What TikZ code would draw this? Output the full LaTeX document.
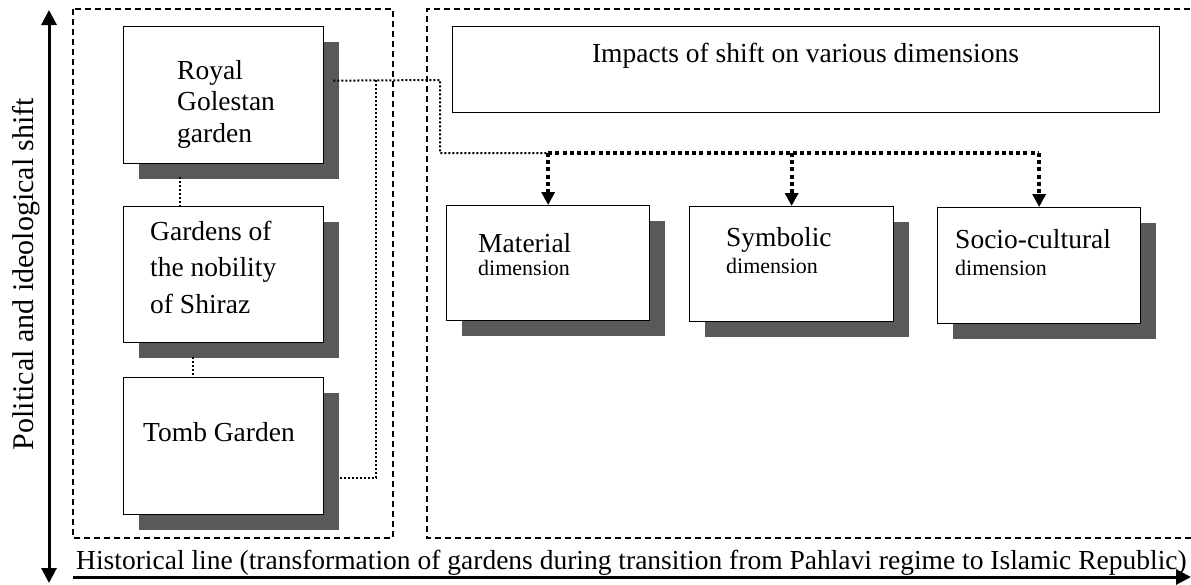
\documentclass[tikz,border=0pt]{standalone}
\usepackage{fontspec}
\setmainfont{Liberation Serif}
\usetikzlibrary{arrows.meta,shadows,calc}
\begin{document}
\begin{tikzpicture}[x=1pt,y=-1pt,
  box/.style={draw=black, line width=1.3pt, fill=white, inner sep=0pt, anchor=north west,
    drop shadow={shadow xshift=15pt, shadow yshift=-15pt, fill=black!65, opacity=1}},
  plainbox/.style={draw=black, line width=1.3pt, fill=white, inner sep=0pt, anchor=north west},
  txt/.style={anchor=base west, inner sep=0pt, align=left},
  big/.style={font=\fontsize{27.5}{31.5}\selectfont},
  small/.style={anchor=base west, inner sep=0pt, font=\fontsize{22}{26}\selectfont},
  frame/.style={line width=1.2pt, dash pattern=on 6pt off 4pt},
  thindot/.style={line width=2pt, dash pattern=on 2pt off 2pt},
  thickdot/.style={line width=4pt, dash pattern=on 4pt off 3.2pt},
  axis/.style={line width=3pt},
]
\useasboundingbox (0,0) rectangle (1191,584);

% frames
\draw[frame] (73,9) rectangle (393,538);
\draw[frame] (1200,9) -- (427,9) -- (427,538) -- (1200,538);

% left boxes
\node[box, minimum width=200pt, minimum height=137pt] (royal) at (123,26) {};
\node[box, minimum width=200pt, minimum height=136pt] (nobility) at (123,206) {};
\node[box, minimum width=200pt, minimum height=137pt] (tomb) at (123,377) {};

\node[txt, font=\fontsize{27.5}{31.5}\selectfont] (royalt) at (177,142) {Royal\\Golestan\\garden};
\node[txt, font=\fontsize{27.5}{36.5}\selectfont] (nobilityt) at (150,313) {Gardens of\\the nobility\\of Shiraz};
\node[txt, big] (tombt) at (143,441) {Tomb Garden};

% right boxes
\node[plainbox, minimum width=707pt, minimum height=86pt] (impacts) at (452,26) {};
\node[anchor=base, inner sep=0pt, big] (impactst) at (805.5,62) {Impacts of shift on various dimensions};

\node[box, minimum width=203pt, minimum height=115pt] (material) at (446,205) {};
\node[box, minimum width=204pt, minimum height=115pt] (symbolic) at (689,206) {};
\node[box, minimum width=203pt, minimum height=116pt] (socio) at (937,207) {};

\node[txt, big] (materialt) at (478,252) {Material};
\node[small] (materiald) at (478,275) {dimension};
\node[txt, big] (symbolict) at (726,246) {Symbolic};
\node[small] (symbolicd) at (726,273) {dimension};
\node[txt, big] (sociot) at (955,248) {Socio-cultural};
\node[small] (sociod) at (955,275) {dimension};

% connectors between left boxes
\draw[thindot] ([xshift=-44pt]royal.south |- 0,177) -- ([xshift=-44pt]nobility.north);
\draw[thindot] ([xshift=-31pt]tomb.north |- 0,357) -- ([xshift=-31pt]tomb.north);

% dotted links
\coordinate (r1) at ($(royal.east)+(9,-14.5)$);
\coordinate (j1) at (376,80);
\coordinate (j2) at (440,80);
\coordinate (j3) at (440,153);
\coordinate (t1) at ($(tomb.east)+(16,31.5)$);
\draw[thindot] (r1) -- (j2) -- (j3) -- (material.north |- j3);
\draw[thindot] (j1) -- (j1 |- t1) -- (t1);

\draw[thickdot] (material.north |- j3) -- (socio.north |- j3);
\draw[thickdot, -{Triangle[width=13pt,length=13pt]}] (material.north |- j3) -- (material.north);
\draw[thickdot, -{Triangle[width=13pt,length=13pt]}] (symbolic.north |- j3) -- (symbolic.north);
\draw[thickdot, -{Triangle[width=13pt,length=13pt]}] (socio.north |- j3) -- (socio.north);

% axes
\coordinate (vtop) at (49,10);
\coordinate (vbot) at (49,583);
\coordinate (hl) at (73,577);
\coordinate (hr) at (1191,577);
\draw[axis, {Triangle[width=15pt,length=15pt]}-{Triangle[width=15pt,length=15pt]}] (vbot) -- (vtop);
\draw[axis, -{Triangle[width=15pt,length=15pt]}] (hl) -- (hr);

\node[rotate=90, anchor=base, inner sep=0pt, font=\fontsize{30}{36}\selectfont] (vlab) at (33,274) {Political and ideological shift};
\node[anchor=base west, inner sep=0pt, big] (hlab) at (76,569) {Historical line (transformation of gardens during transition from Pahlavi regime to Islamic Republic)};
\end{tikzpicture}
\end{document}
